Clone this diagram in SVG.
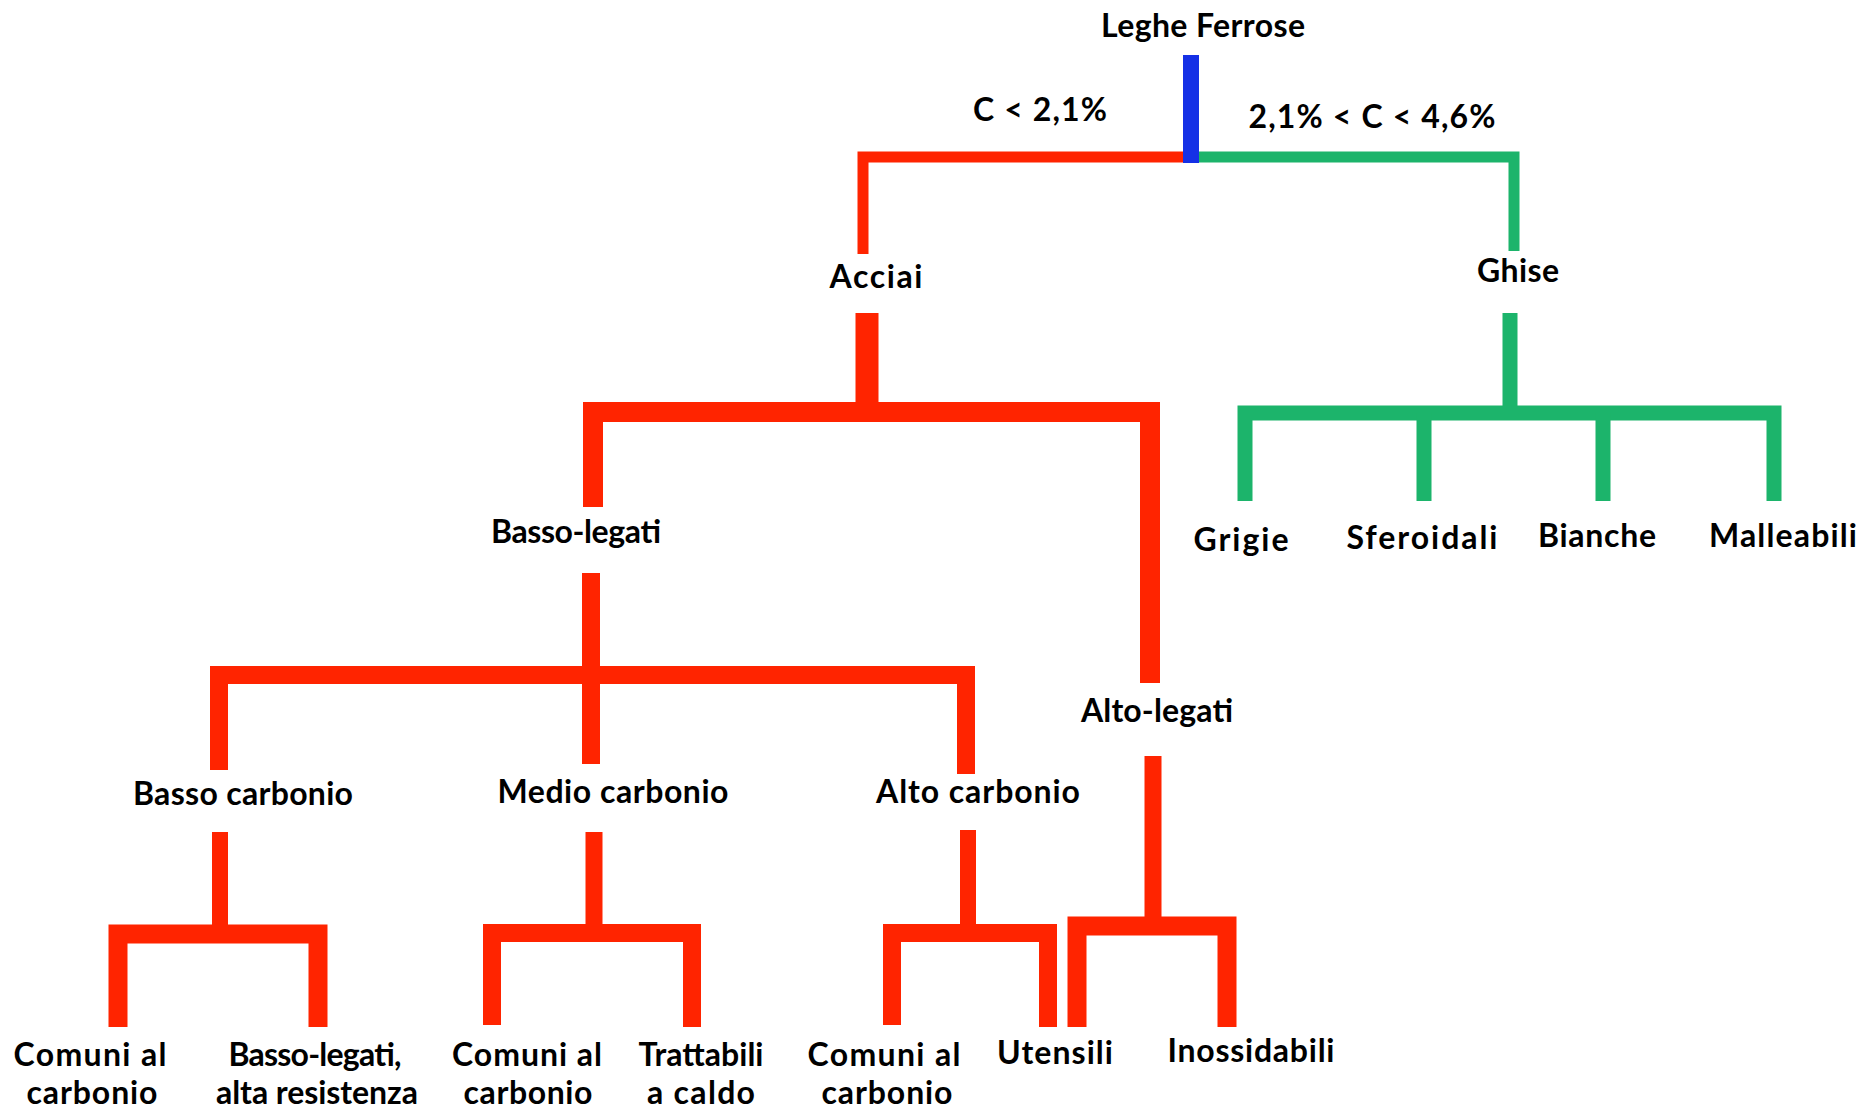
<svg xmlns="http://www.w3.org/2000/svg" width="1872" height="1113" viewBox="0 0 1872 1113">
<style>
.t{font-family:Lato,"Open Sans","Liberation Sans",sans-serif;font-weight:bold;font-size:32px;fill:#000;text-anchor:middle}
.r{fill:none;stroke:#FF2400;stroke-linejoin:miter;stroke-linecap:butt}
.g{fill:none;stroke:#1CB46B;stroke-linejoin:miter;stroke-linecap:butt}
.b{fill:none;stroke:#1530E6}
</style>
<rect width="1872" height="1113" fill="#fff"/>
<g id="connectors">
<path class="r" d="M1191,157 H863 V254" stroke-width="11"/>
<path class="g" d="M1191,157 H1514 V251" stroke-width="11"/>
<path class="b" d="M1191,55 V163" stroke-width="16"/>
<path class="r" d="M867,313 V412" stroke-width="23"/>
<path class="r" d="M593,507 V412 H1150 V683" stroke-width="20"/>
<path class="r" d="M591,573 V764" stroke-width="18"/>
<path class="r" d="M219,770 V675 H966 V774" stroke-width="18"/>
<path class="r" d="M220,832 V934" stroke-width="16"/>
<path class="r" d="M118,1027 V934 H318 V1027" stroke-width="19"/>
<path class="r" d="M594,832 V933" stroke-width="17"/>
<path class="r" d="M492,1025 V933 H692 V1027" stroke-width="18"/>
<path class="r" d="M968,830 V933" stroke-width="16"/>
<path class="r" d="M892,1025 V933 H1048 V1027" stroke-width="18"/>
<path class="r" d="M1153,756 V926" stroke-width="17"/>
<path class="r" d="M1077,1027 V926 H1227 V1027" stroke-width="19"/>
<path class="g" d="M1510,313 V413" stroke-width="15"/>
<path class="g" d="M1245,501 V413 H1774 V501" stroke-width="15"/>
<path class="g" d="M1424,413 V501" stroke-width="15"/>
<path class="g" d="M1603,413 V501" stroke-width="15"/>
</g>
<g id="n-root"><text class="t" x="1203" y="37" textLength="204">Leghe Ferrose</text></g>
<g id="l-c1"><text class="t" x="1040" y="121" textLength="134">C &lt; 2,1%</text></g>
<g id="l-c2"><text class="t" x="1372" y="128" textLength="247">2,1% &lt; C &lt; 4,6%</text></g>
<g id="n-acciai"><text class="t" x="876" y="288" textLength="93">Acciai</text></g>
<g id="n-ghise"><text class="t" x="1518" y="282" textLength="82">Ghise</text></g>
<g id="n-basso-legati"><text class="t" x="576" y="543" textLength="170">Basso-legati</text></g>
<g id="n-alto-legati"><text class="t" x="1157" y="722" textLength="152">Alto-legati</text></g>
<g id="n-basso-c"><text class="t" x="243" y="805" textLength="220">Basso carbonio</text></g>
<g id="n-medio-c"><text class="t" x="613" y="803" textLength="231">Medio carbonio</text></g>
<g id="n-alto-c"><text class="t" x="978" y="803" textLength="204">Alto carbonio</text></g>
<g id="n-grigie"><text class="t" x="1241" y="551" textLength="95">Grigie</text></g>
<g id="n-sferoidali"><text class="t" x="1422" y="549" textLength="151">Sferoidali</text></g>
<g id="n-bianche"><text class="t" x="1597" y="547" textLength="118">Bianche</text></g>
<g id="n-malleabili"><text class="t" x="1783" y="547" textLength="148">Malleabili</text></g>
<g id="n-leaf1"><text class="t" x="90" y="1066" textLength="153">Comuni al</text><text class="t" x="92" y="1104" textLength="131">carbonio</text></g>
<g id="n-leaf2"><text class="t" x="315" y="1066" textLength="173">Basso-legati,</text><text class="t" x="317" y="1104" textLength="202">alta resistenza</text></g>
<g id="n-leaf3"><text class="t" x="527" y="1066" textLength="150">Comuni al</text><text class="t" x="528" y="1104" textLength="129">carbonio</text></g>
<g id="n-leaf4"><text class="t" x="701" y="1066" textLength="125">Trattabili</text><text class="t" x="701" y="1104" textLength="108">a caldo</text></g>
<g id="n-leaf5"><text class="t" x="884" y="1066" textLength="153">Comuni al</text><text class="t" x="887" y="1104" textLength="131">carbonio</text></g>
<g id="n-utensili"><text class="t" x="1055" y="1064" textLength="116">Utensili</text></g>
<g id="n-inossidabili"><text class="t" x="1251" y="1062" textLength="167">Inossidabili</text></g>
</svg>
